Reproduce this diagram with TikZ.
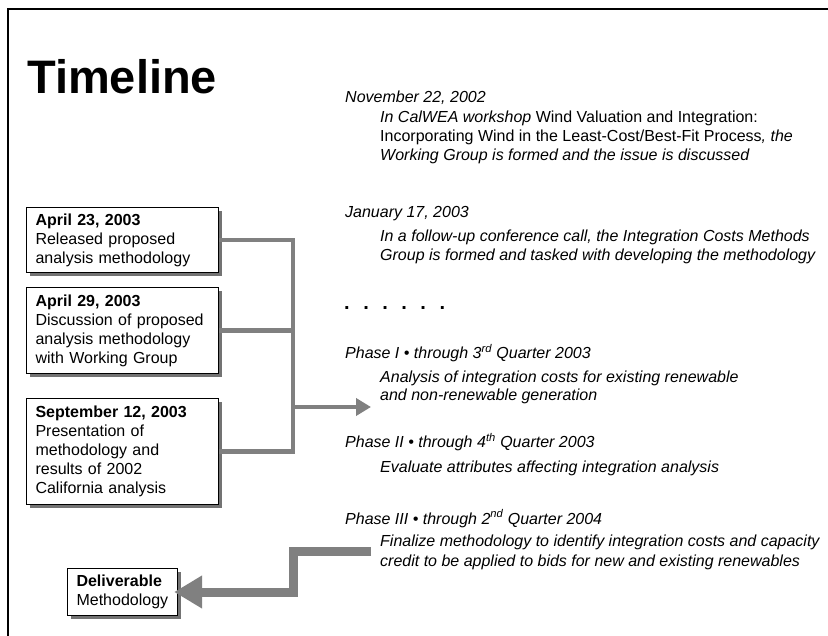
\documentclass[tikz,border=0pt]{standalone}
\usepackage{fontspec}
\setmainfont{Liberation Sans}
\usetikzlibrary{arrows.meta,shadows}
\begin{document}
\begin{tikzpicture}[x=1pt,y=-1pt,
  every node/.style={inner sep=0pt, font=\fontsize{16}{19}\selectfont},
  txt/.style={anchor=base west},
  itx/.style={anchor=base west, font=\fontsize{16}{19}\selectfont\itshape},
  box/.style={draw=black, line width=1.1pt, fill=white, align=left, anchor=north west,
    inner xsep=9pt, inner ysep=5pt, text width=174pt,
    drop shadow={shadow xshift=3pt, shadow yshift=-3pt, fill=black!55, opacity=1}},
  conn/.style={draw=black!50, line width=4.5pt},
  bigarrow/.style={draw=black!50, line width=9pt,
    -{Triangle[length=28pt,width=31pt]}},
]
\useasboundingbox (0,0) rectangle (828,636);
% frame
\draw[line width=1.3pt] (8,636) -- (8,9) -- (828,9);

\node[anchor=base west, font=\bfseries\fontsize{47}{50}\selectfont] (title) at (27,94) {Timeline};

% left boxes
\node[box, minimum height=65pt] (b1) at (26,207)
  {\textbf{April 23, 2003}\\Released proposed\\analysis methodology};
\node[box, minimum height=86pt] (b2) at (26,287)
  {\textbf{April 29, 2003}\\Discussion of proposed\\analysis methodology\\with Working Group};
\node[box, minimum height=106pt] (b3) at (26,398)
  {\textbf{September 12, 2003}\\Presentation of\\methodology and\\results of 2002\\California analysis};
\node[box, text width=92pt, minimum height=47pt] (dl) at (67,568)
  {\textbf{Deliverable}\\Methodology};

% connectors
\coordinate (vx) at (293,0);
\coordinate (ja) at (293,407);
\coordinate (at) at (371,407);
\draw[conn] (b1.east) -| (b3.east -| vx) -- (b3.east);
\draw[conn] (b2.east) -- (b2.east -| vx);
\draw[conn, -{Triangle[length=15pt,width=17pt]}] (ja) -- (at);

% right column texts
\node[itx] (n1) at (345,103) {November 22, 2002};
\node[txt] (n1a) at (380,123) {\textit{In CalWEA workshop} Wind Valuation and Integration:};
\node[txt] (n1b) at (380,142) {Incorporating Wind in the Least-Cost/Best-Fit Process\textit{, the}};
\node[itx] (n1c) at (380,161) {Working Group is formed and the issue is discussed};

\node[itx] (n2) at (345,218) {January 17, 2003};
\node[itx] (n2a) at (380,242) {In a follow-up conference call, the Integration Costs Methods};
\node[itx] (n2b) at (380,261) {Group is formed and tasked with developing the methodology};

\node[txt, font=\fontsize{20}{20}\selectfont\bfseries] (dots) at (344,310)
  {.\hspace{13.5pt}.\hspace{13.5pt}.\hspace{13.5pt}.\hspace{13.5pt}.\hspace{13.5pt}.};

\node[itx] (p1) at (345,359) {Phase I • through 3\textsuperscript{rd} Quarter 2003};
\node[itx] (p1a) at (380,383) {Analysis of integration costs for existing renewable};
\node[itx] (p1b) at (380,401) {and non-renewable generation};

\node[itx] (p2) at (345,448) {Phase II • through 4\textsuperscript{th} Quarter 2003};
\node[itx] (p2a) at (380,472) {Evaluate attributes affecting integration analysis};

\node[itx] (p3) at (345,524) {Phase III • through 2\textsuperscript{nd} Quarter 2004};
\node[itx] (p3a) at (380,546) {Finalize methodology to identify integration costs and capacity};
\node[itx] (p3b) at (380,566) {credit to be applied to bids for new and existing renewables};

% big arrow to deliverable
\coordinate (bs) at (371,551);
\coordinate (bm) at (293,592);
\draw[bigarrow, shorten >=-4pt] (bs) -| (bm) -- (dl.east |- bm);
\end{tikzpicture}
\end{document}
